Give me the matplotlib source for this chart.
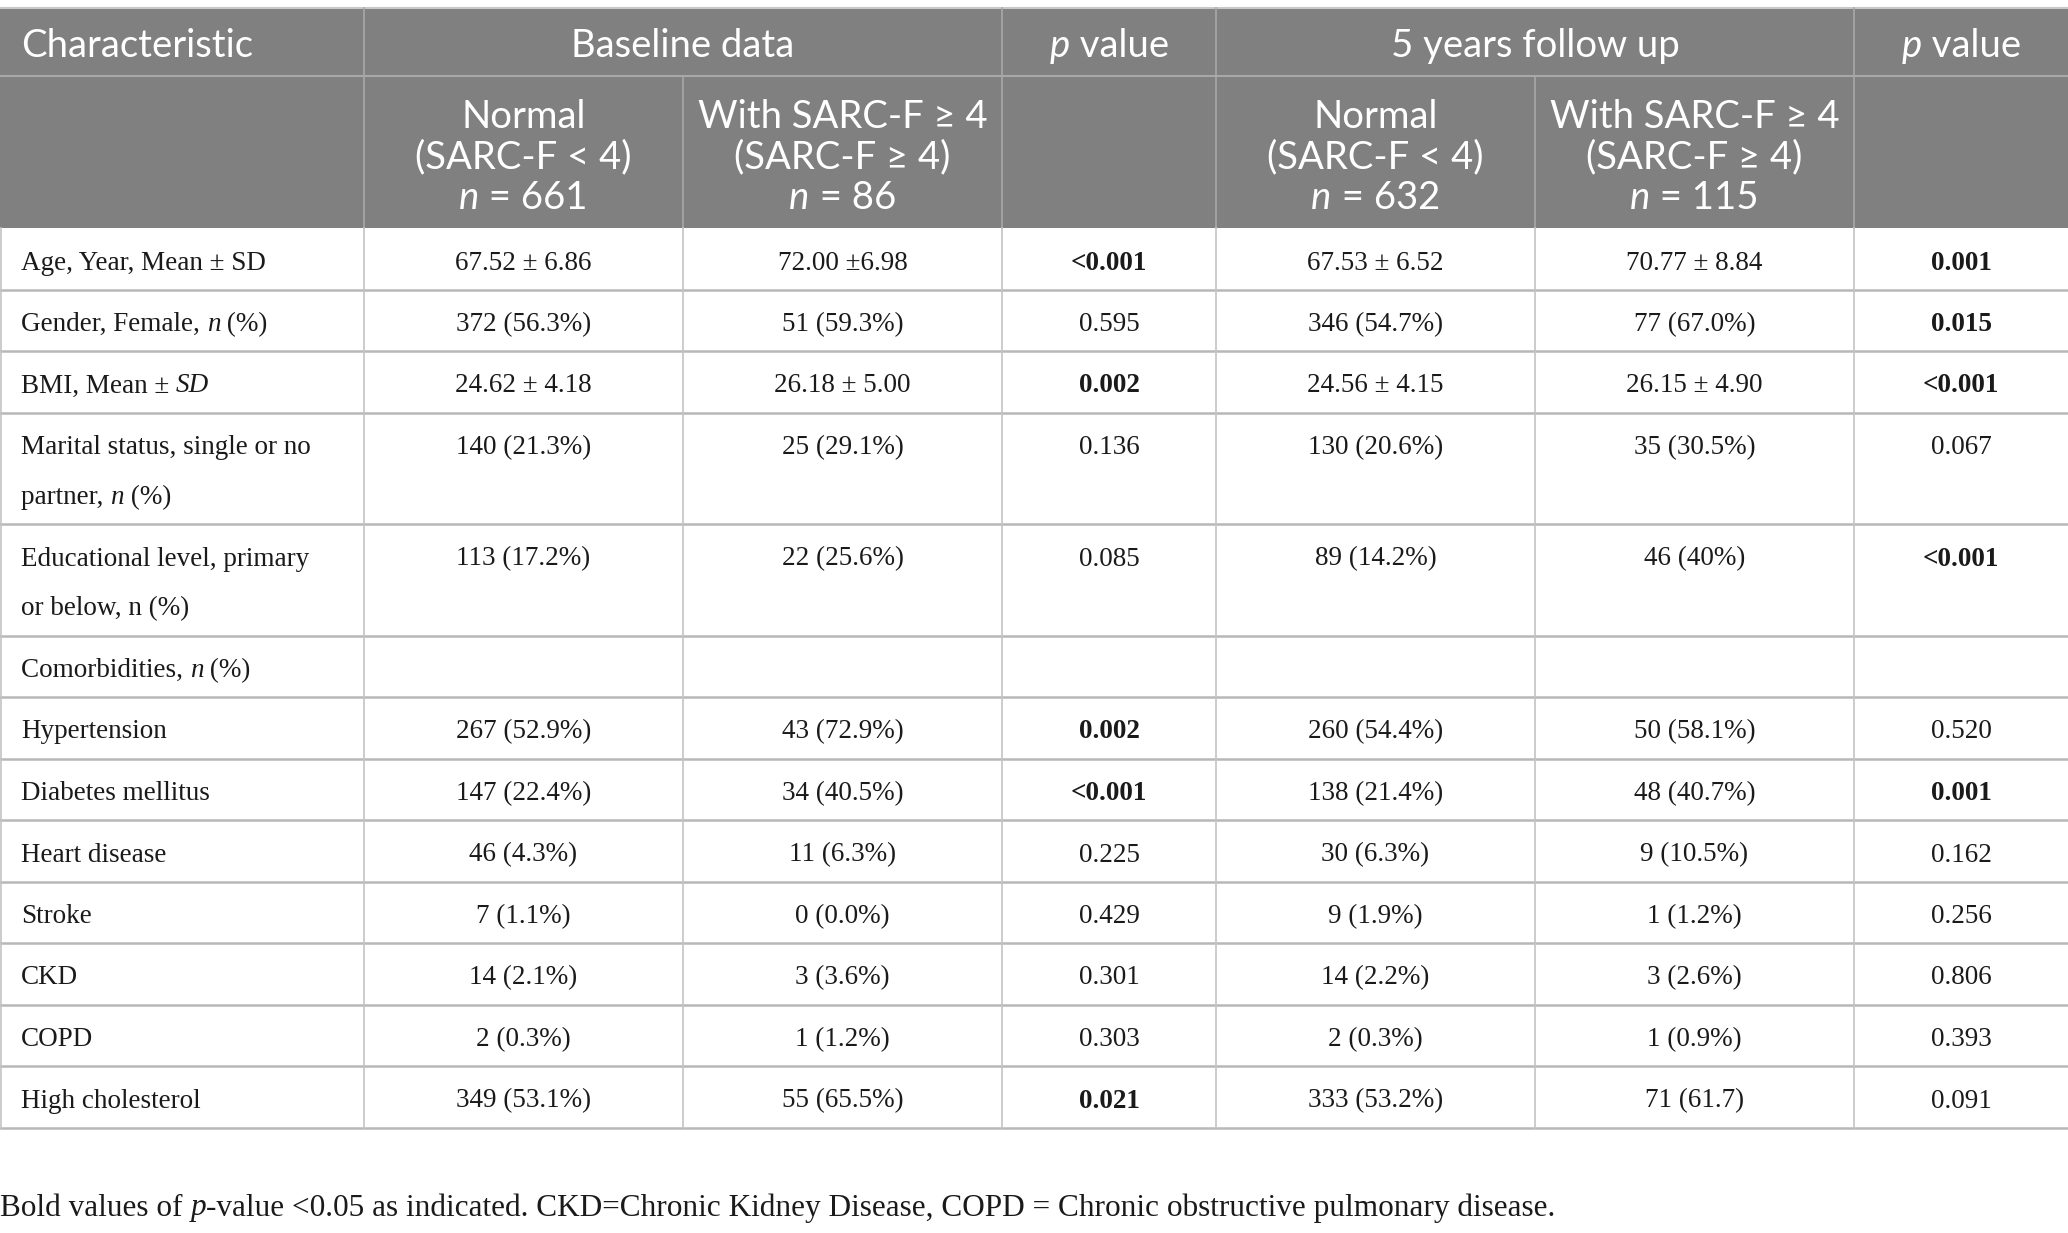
import matplotlib
matplotlib.use("Agg")
import matplotlib.pyplot as plt

# table contents
characteristics = ["Age, Year, Mean ± SD", "Gender, Female, *n* (%)", "BMI, Mean ± *SD*",
                   "Marital status, single or no\npartner, *n* (%)",
                   "Educational level, primary\nor below, n (%)",
                   "Comorbidities, *n* (%)", "Hypertension", "Diabetes mellitus",
                   "Heart disease", "Stroke", "CKD", "COPD", "High cholesterol"]
base_normal = ["67.52 ± 6.86", "372 (56.3%)", "24.62 ± 4.18", "140 (21.3%)", "113 (17.2%)", "",
               "267 (52.9%)", "147 (22.4%)", "46 (4.3%)", "7 (1.1%)", "14 (2.1%)", "2 (0.3%)", "349 (53.1%)"]
base_sarc = ["72.00 ±6.98", "51 (59.3%)", "26.18 ± 5.00", "25 (29.1%)", "22 (25.6%)", "",
             "43 (72.9%)", "34 (40.5%)", "11 (6.3%)", "0 (0.0%)", "3 (3.6%)", "1 (1.2%)", "55 (65.5%)"]
base_p = ["<0.001", "0.595", "0.002", "0.136", "0.085", "",
          "0.002", "<0.001", "0.225", "0.429", "0.301", "0.303", "0.021"]
fu_normal = ["67.53 ± 6.52", "346 (54.7%)", "24.56 ± 4.15", "130 (20.6%)", "89 (14.2%)", "",
             "260 (54.4%)", "138 (21.4%)", "30 (6.3%)", "9 (1.9%)", "14 (2.2%)", "2 (0.3%)", "333 (53.2%)"]
fu_sarc = ["70.77 ± 8.84", "77 (67.0%)", "26.15 ± 4.90", "35 (30.5%)", "46 (40%)", "",
           "50 (58.1%)", "48 (40.7%)", "9 (10.5%)", "1 (1.2%)", "3 (2.6%)", "1 (0.9%)", "71 (61.7)"]
fu_p = ["0.001", "0.015", "<0.001", "0.067", "<0.001", "",
        "0.520", "0.001", "0.162", "0.256", "0.806", "0.393", "0.091"]

top_headers = ["Characteristic", "Baseline data", "*p* value", "5 years follow up", "*p* value"]
sub_headers = ["Normal\n(SARC-F < 4)\n*n* = 661", "With SARC-F ≥ 4\n(SARC-F ≥ 4)\n*n* = 86",
               "Normal\n(SARC-F < 4)\n*n* = 632", "With SARC-F ≥ 4\n(SARC-F ≥ 4)\n*n* = 115"]
footnote = "Bold values of *p*-value <0.05 as indicated. CKD=Chronic Kidney Disease, COPD = Chronic obstructive pulmonary disease."

# layout (pixels)
W, H = 2068, 1233
col_x = [0, 364, 683, 1002, 1216, 1535, 1854, 2068]
top = 8
h1 = 76
h2 = 228
single_h = 61.5
line_gap = 50
header_bg = "#808080"
grid_c = "#c4c4c4"
head_line = "#a8a8a8"
sans = "Lato"
serif = "Liberation Serif"
head_size = 27.5
body_size = 19.5

fig = plt.figure(figsize=(W / 100, H / 100), dpi=100)
ax = fig.add_axes([0, 0, 1, 1])
ax.set_xlim(0, W)
ax.set_ylim(H, 0)
ax.axis("off")
renderer = fig.canvas.get_renderer()


def parse(s):
    parts = s.split("*")
    return [(p, i % 2 == 1) for i, p in enumerate(parts) if p]


def width(s, **kw):
    t1 = ax.text(0, 0, "|" + s + "|", **kw)
    t2 = ax.text(0, 0, "||", **kw)
    w = t1.get_window_extent(renderer).width - t2.get_window_extent(renderer).width
    t1.remove()
    t2.remove()
    return w


def rich(x, y, s, ha="center", **kw):
    segs = parse(s)
    ws = [width(p, fontstyle="italic" if it else "normal", **kw) for p, it in segs]
    total = sum(ws)
    x0 = x - total / 2 if ha == "center" else x
    for (p, it), w in zip(segs, ws):
        ax.text(x0, y, p, ha="left", va="center", fontstyle="italic" if it else "normal", **kw)
        x0 += w


def is_bold(p):
    if not p:
        return False
    return float(p.replace("<", "")) < 0.05


# header background
ax.add_patch(plt.Rectangle((0, top), W, h2 - top, color=header_bg, lw=0))
ax.plot([0, W], [top, top], color="#c8c8c8", lw=1.5)
ax.plot([0, W], [h1, h1], color=head_line, lw=1.5)
for xv in [col_x[1], col_x[3], col_x[4], col_x[6]]:
    ax.plot([xv, xv], [top, h1], color=head_line, lw=1.2)
for xv in col_x[1:-1]:
    ax.plot([xv, xv], [h1, h2], color=head_line, lw=1.2)

hkw = dict(family=sans, fontsize=head_size, color="white")
hy = (top + h1) / 2 + 4
rich(col_x[0] + 21, hy, top_headers[0], ha="left", **hkw)
rich((col_x[1] + col_x[3]) / 2, hy, top_headers[1], **hkw)
rich((col_x[3] + col_x[4]) / 2, hy, top_headers[2], **hkw)
rich((col_x[4] + col_x[6]) / 2, hy, top_headers[3], **hkw)
rich((col_x[6] + col_x[7]) / 2, hy, top_headers[4], **hkw)

for ci, txt in zip([1, 2, 4, 5], sub_headers):
    cx = (col_x[ci] + col_x[ci + 1]) / 2
    for li, line in enumerate(txt.split("\n")):
        rich(cx, 117 + li * 40.5, line, **hkw)

# body rows
columns = [base_normal, base_sarc, base_p, fu_normal, fu_sarc, fu_p]
y = h2
row_lines = [y]
for r, label in enumerate(characteristics):
    n_lines = label.count("\n") + 1
    rh = single_h + (n_lines - 1) * line_gap
    ty = y + 35
    for li, line in enumerate(label.split("\n")):
        rich(col_x[0] + 21, ty + li * line_gap, line, ha="left",
             family=serif, fontsize=body_size, color="#1a1a1a")
    for ci, col in enumerate(columns):
        val = col[r]
        if not val:
            continue
        cx = (col_x[ci + 1] + col_x[ci + 2]) / 2
        bold = ci in (2, 5) and is_bold(val)
        ax.text(cx, ty, val, ha="center", va="center", family=serif, fontsize=body_size,
                color="#1a1a1a", fontweight="bold" if bold else "normal")
    y += rh
    row_lines.append(y)

for yl in row_lines[1:]:
    ax.plot([0, W], [yl, yl], color="#b8b8b8", lw=1.8)
for xv in col_x[:-1]:
    ax.plot([max(xv, 0.8), max(xv, 0.8)], [h2, row_lines[-1]], color=grid_c, lw=1.2)

rich(0, 1208, footnote, ha="left", family=serif, fontsize=22.5, color="#1a1a1a")

fig.savefig("out.png", dpi=100)
